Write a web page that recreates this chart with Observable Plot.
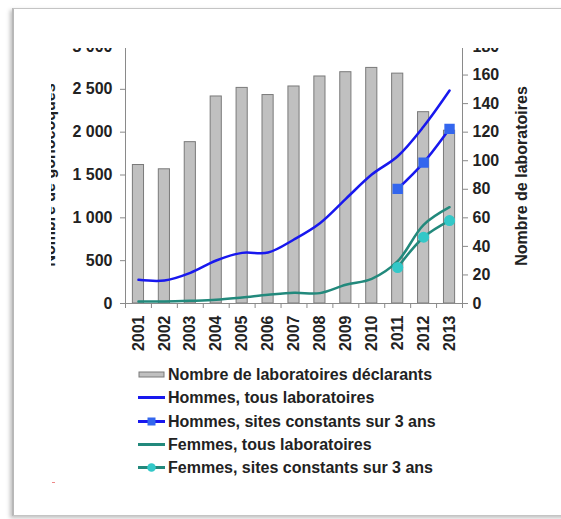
<!DOCTYPE html>
<html><head><meta charset="utf-8">
<script src="https://cdn.jsdelivr.net/npm/d3@7"></script>
<script src="https://cdn.jsdelivr.net/npm/@observablehq/plot@0.6"></script>
<style>
html,body{margin:0;padding:0;background:#fff;width:561px;height:519px;overflow:hidden;}
#card{position:absolute;left:12px;top:8px;width:600px;height:506px;border:1px solid #c4c4c4;border-left:2px solid #b8b8b8;box-shadow:-2px 2px 4px rgba(0,0,0,0.25);background:#fff;}
#chart{position:absolute;left:0;top:0;}
#chart svg{clip-path:inset(48px 0px 0px 51px);}
#legend{position:absolute;left:138px;top:363px;font:bold 16px 'Liberation Sans',Arial,sans-serif;color:#222;line-height:23.3px;}
#legend .row{display:flex;align-items:center;height:23.3px;white-space:nowrap;}
#legend svg{margin-right:3px;}
#red{position:absolute;left:52px;top:482px;width:3px;height:1px;background:#e88;}
</style></head>
<body>
<div id="card"></div>
<div id="chart"></div>
<div id="legend"></div>
<div id="red"></div>
<script>
const years = [2001,2002,2003,2004,2005,2006,2007,2008,2009,2010,2011,2012,2013];
const labs = [97,94,113,145,151,146,152,159,162,165,161,134,121];
const hommesTous = [276,268,358,502,591,595,747,937,1222,1505,1719,2066,2486];
const femmesTous = [23,23,31,43,70,101,125,121,218,288,494,918,1124];
const constYears = [2011,2012,2013];
const hommesConst = [1338,1645,2039];
const femmesConst = [420,774,968];
const leftTicks = [0,500,1000,1500,2000,2500,3000];
const rightTicks = [0,20,40,60,80,100,120,140,160,180];
const leftMax = 3000, rightMax = 180;
const legendLabels = ["Nombre de laboratoires déclarants","Hommes, tous laboratoires","Hommes, sites constants sur 3 ans","Femmes, tous laboratoires","Femmes, sites constants sur 3 ans"];
const axisTitleLeft = "Nombre de gonocoques";
const axisTitleRight = "Nombre de laboratoires";

const k = leftMax / rightMax;
const colH = "#1818ee", colHm = "#3366ee", colF = "#22897c", colFm = "#33c8c8";
const barFill = "#c0c0c0", barStroke = "#7a7a7a", axisCol = "#8a8a8a";

const barData = years.map((y,i)=>({year:y, v:labs[i]}));
const hT = years.map((y,i)=>({year:y, v:hommesTous[i]}));
const fT = years.map((y,i)=>({year:y, v:femmesTous[i]}));
const hC = constYears.map((y,i)=>({year:y, v:hommesConst[i]}));
const fC = constYears.map((y,i)=>({year:y, v:femmesConst[i]}));
const boundaries = years.map(y=>y-0.5).concat([years[years.length-1]+0.5]);
const frFmt = d3.formatLocale({decimal:",", thousands:" ", grouping:[3], currency:["","€"]}).format(",");
const half = 0.215;

const plot = Plot.plot({
  width: 561, height: 370,
  marginTop: 46, marginRight: 99, marginBottom: 67, marginLeft: 125,
  x: {domain: [years[0]-0.5, years[years.length-1]+0.5]},
  y: {domain: [0, leftMax]},
  style: {fontFamily: "'Liberation Sans', Arial, sans-serif", fontWeight: "bold", color: "#222", background: "transparent", overflow: "visible"},
  marks: [
    Plot.rectY(barData, {x1: d=>d.year-half, x2: d=>d.year+half, y1: 0, y2: d=>d.v*k, fill: barFill, stroke: barStroke, strokeWidth: 1}),
    Plot.ruleY([0], {stroke: axisCol}),
    Plot.ruleX([boundaries[0], boundaries[boundaries.length-1]], {stroke: axisCol}),
    Plot.axisY(leftTicks, {anchor: "left", tickSize: 5, tickPadding: 8, tickFormat: frFmt, fontSize: 16, stroke: axisCol, label: null}),
    Plot.axisY(rightTicks.map(v=>v*k), {anchor: "right", tickSize: 5, tickPadding: 5, tickFormat: d=>String(Math.round(d/k)), fontSize: 16, stroke: axisCol, label: null}),
    Plot.axisX(years, {anchor: "bottom", tickSize: 0, tickRotate: -90, tickPadding: 12, tickFormat: d=>String(d), fontSize: 16, label: null}),
    Plot.axisX(boundaries, {anchor: "bottom", tickSize: 5, tickFormat: ()=>"", stroke: axisCol, label: null}),
    Plot.line(fT, {x: "year", y: "v", stroke: colF, strokeWidth: 2.5, curve: "catmull-rom"}),
    Plot.line(fC, {x: "year", y: "v", stroke: colF, strokeWidth: 2.5, curve: "catmull-rom"}),
    Plot.dot(fC, {x: "year", y: "v", r: 4.8, fill: colFm, stroke: colFm}),
    Plot.line(hT, {x: "year", y: "v", stroke: colH, strokeWidth: 2.5, curve: "catmull-rom"}),
    Plot.line(hC, {x: "year", y: "v", stroke: colH, strokeWidth: 2.5, curve: "catmull-rom"}),
    Plot.dot(hC, {x: "year", y: "v", r: 5, symbol: "square", fill: colHm, stroke: colHm})
  ]
});
document.getElementById("chart").appendChild(plot);
const svg = d3.select(plot);
svg.append("text").attr("transform","translate(55,175) rotate(-90)").attr("text-anchor","middle")
  .attr("font-size",16).attr("font-weight","bold").attr("fill","#222").text(axisTitleLeft);
svg.append("text").attr("transform","translate(527,176) rotate(-90)").attr("text-anchor","middle")
  .attr("font-size",16).attr("font-weight","bold").attr("fill","#222").text(axisTitleRight);

// legend
const leg = d3.select("#legend");
const symbols = [
  s => s.append("rect").attr("x",1).attr("y",4).attr("width",25).attr("height",5).attr("fill",barFill).attr("stroke",barStroke),
  s => s.append("line").attr("x1",0).attr("x2",27).attr("y1",6.5).attr("y2",6.5).attr("stroke",colH).attr("stroke-width",3),
  s => { s.append("line").attr("x1",0).attr("x2",27).attr("y1",6.5).attr("y2",6.5).attr("stroke",colH).attr("stroke-width",3);
         s.append("rect").attr("x",9.5).attr("y",2.5).attr("width",8).attr("height",8).attr("fill",colHm); },
  s => s.append("line").attr("x1",0).attr("x2",27).attr("y1",6.5).attr("y2",6.5).attr("stroke",colF).attr("stroke-width",3),
  s => { s.append("line").attr("x1",0).attr("x2",27).attr("y1",6.5).attr("y2",6.5).attr("stroke",colF).attr("stroke-width",3);
         s.append("circle").attr("cx",13.5).attr("cy",6.5).attr("r",4.3).attr("fill",colFm); }
];
legendLabels.forEach((t,i)=>{
  const row = leg.append("div").attr("class","row");
  const s = row.append("svg").attr("width",27).attr("height",13);
  symbols[i](s);
  row.append("span").text(t);
});
</script>
</body></html>
